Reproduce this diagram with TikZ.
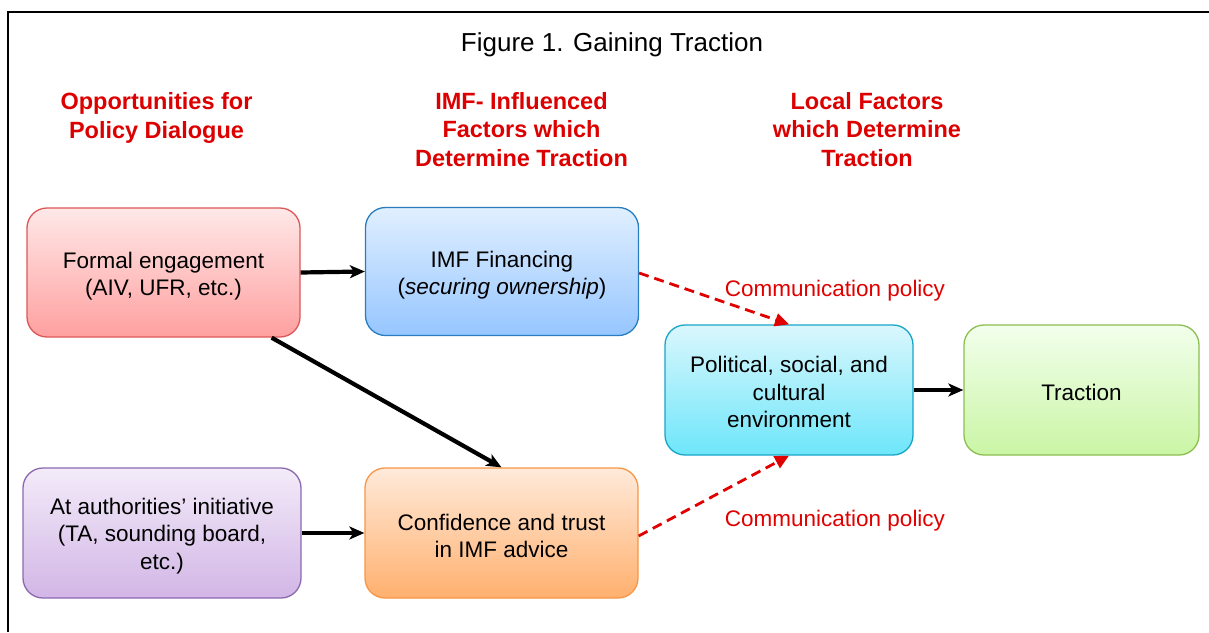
\documentclass[tikz,border=0pt]{standalone}
\usepackage{fontspec}
\setmainfont{Liberation Sans}
\usetikzlibrary{arrows.meta,calc}

\definecolor{hdred}{RGB}{220,0,0}
\definecolor{dashred}{RGB}{225,0,0}

\tikzset{
  box/.style={rounded corners=20pt, line width=1.3pt, inner sep=0pt},
  boxtext/.style={align=center, font=\fontsize{22.5}{27.5}\selectfont, text=black, inner sep=0pt},
  redbox/.style={box, draw={rgb,255:red,220;green,88;blue,88},
    top color={rgb,255:red,255;green,232;blue,232}, bottom color={rgb,255:red,255;green,160;blue,160}},
  bluebox/.style={box, draw={rgb,255:red,40;green,125;blue,190},
    top color={rgb,255:red,224;green,239;blue,255}, bottom color={rgb,255:red,150;green,198;blue,255}},
  cyanbox/.style={box, draw={rgb,255:red,25;green,165;blue,200},
    top color={rgb,255:red,218;green,247;blue,253}, bottom color={rgb,255:red,110;green,230;blue,250}},
  greenbox/.style={box, draw={rgb,255:red,140;green,190;blue,80},
    top color={rgb,255:red,242;green,255;blue,236}, bottom color={rgb,255:red,202;green,245;blue,165}},
  purplebox/.style={box, draw={rgb,255:red,140;green,105;blue,175},
    top color={rgb,255:red,243;green,235;blue,249}, bottom color={rgb,255:red,210;green,182;blue,230}},
  orangebox/.style={box, draw={rgb,255:red,247;green,150;blue,70},
    top color={rgb,255:red,255;green,234;blue,218}, bottom color={rgb,255:red,255;green,176;blue,110}},
  heading/.style={align=center, text=hdred, font=\bfseries\fontsize{23.5}{28.5}\selectfont},
  flow/.style={line width=4.2pt, -{Stealth[length=15pt,width=13pt,inset=4pt]}},
  comm/.style={dash pattern=on 10pt off 6pt, line width=2.8pt, draw=dashred,
    -{Triangle[length=14pt,width=13pt]}},
  commlabel/.style={text=dashred, font=\fontsize{22.5}{27}\selectfont},
}

\begin{document}
\begin{tikzpicture}[x=1pt,y=-1pt]
  \useasboundingbox (0,0) rectangle (1209,632);

  % frame
  \draw[line width=2.6pt] (8,632) -- (8,12) -- (1209,12);

  % title and column headings
  \node[font=\fontsize{26}{31}\selectfont] (title) at (612,44.5) {Figure 1. Gaining Traction};
  \node[heading] (h1) at (156.5,118) {Opportunities for\\Policy Dialogue};
  \node[heading] (h2) at (521.5,129.5) {IMF- Influenced\\Factors which\\Determine Traction};
  \node[heading] (h3) at (867,129.5) {Local Factors\\which Determine\\Traction};

  % boxes
  \node[redbox, minimum width=273pt, minimum height=129pt] (fe) at (163.5,272.5) {};
  \node[bluebox, minimum width=273pt, minimum height=128pt] (imf) at (502,271.5) {};
  \node[purplebox, minimum width=278pt, minimum height=130pt] (aut) at (162,533) {};
  \node[orangebox, minimum width=273pt, minimum height=130pt] (con) at (501.5,533) {};
  \node[cyanbox, minimum width=248pt, minimum height=130pt] (pol) at (789,390) {};
  \node[greenbox, minimum width=235pt, minimum height=130pt] (tra) at (1081.5,390) {};

  % box texts
  \node[boxtext] (fe-t) at ([yshift=-3.5pt]fe.center) {Formal engagement\\(AIV, UFR, etc.)};
  \node[boxtext] (imf-t) at ([yshift=-3.5pt]imf.center) {IMF Financing\\(\textit{securing ownership})};
  \node[boxtext] (aut-t) at ([yshift=-3pt]aut.center) {At authorities' initiative\\(TA, sounding board,\\etc.)};
  \node[boxtext] (con-t) at ([yshift=-3pt]con.center) {Confidence and trust\\in IMF advice};
  \node[boxtext] (pol-t) at ([yshift=-2pt]pol.center) {Political, social, and\\cultural\\environment};
  \node[boxtext] (tra-t) at ([yshift=-2pt]tra.center) {Traction};

  % connectors
  \draw[flow] (fe.east) -- (imf.west);
  \draw[flow] ([xshift=-29pt]fe.south east) -- (con.north);
  \draw[flow] (aut.east) -- (con.west);
  \draw[flow] (pol.east) -- (tra.west);
  \draw[comm] ([yshift=-1.5pt]imf.east) -- (pol.north);
  \draw[comm] ([yshift=-3pt]con.east) -- (pol.south);

  \node[commlabel] (c1) at (835,290.5) {Communication policy};
  \node[commlabel] (c2) at (835,520.5) {Communication policy};
\end{tikzpicture}
\end{document}
